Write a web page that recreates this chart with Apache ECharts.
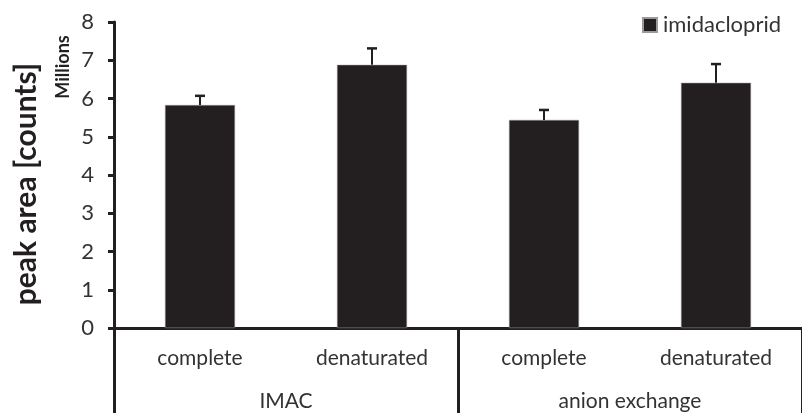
<!DOCTYPE html>
<html>
<head>
<meta charset="utf-8">
<script src="https://cdn.jsdelivr.net/npm/echarts@6/dist/echarts.min.js"></script>
<style>
html,body{margin:0;padding:0;background:#fff;}
#chart{width:802px;height:413px;}
</style>
</head>
<body>
<div id="chart"></div>
<script>
var categories = ['complete', 'denaturated', 'complete', 'denaturated'];
var groups = ['IMAC', 'anion exchange'];
var values = [5.83, 6.88, 5.44, 6.41];
var errors = [0.24, 0.43, 0.26, 0.49];
var yTicks = [0, 1, 2, 3, 4, 5, 6, 7, 8];
var seriesName = 'imidacloprid';

var dark = '#231f20';
var textColor = '#333333';
var fontFam = 'Lato, "Open Sans", sans-serif';

var chart = echarts.init(document.getElementById('chart'), null, {renderer: 'canvas'});
var errData = values.map(function (v, i) { return [i, v, v + errors[i]]; });

chart.setOption({
  animation: false,
  backgroundColor: '#ffffff',
  grid: {left: 114, top: 22, width: 697, height: 306, containLabel: false},
  legend: {
    data: [{name: seriesName, icon: 'rect'}],
    left: 637, top: 9,
    itemWidth: 14, itemHeight: 14, itemGap: 6,
    textStyle: {fontSize: 22, color: textColor, fontFamily: fontFam, padding: [0, 0, 0, 1]}
  },
  xAxis: [{
    type: 'category',
    data: categories,
    position: 'bottom',
    axisLine: {show: true, onZero: false, lineStyle: {color: dark, width: 3}},
    axisTick: {show: false},
    axisLabel: {color: textColor, fontSize: 21, fontFamily: fontFam, margin: 20, interval: 0}
  }, {
    type: 'category',
    data: groups,
    position: 'bottom',
    axisLine: {show: false},
    axisTick: {show: true, length: 86, lineStyle: {color: dark, width: 3}},
    axisLabel: {color: textColor, fontSize: 21, fontFamily: fontFam, margin: 63, interval: 0}
  }],
  yAxis: {
    type: 'value',
    min: yTicks[0], max: yTicks[yTicks.length - 1], interval: 1,
    axisLine: {show: true, lineStyle: {color: dark, width: 3}},
    axisTick: {show: true, length: 6, lineStyle: {color: dark, width: 3}},
    splitLine: {show: false},
    axisLabel: {color: textColor, fontSize: 22, fontFamily: fontFam, margin: 20}
  },
  graphic: [{
    type: 'text',
    x: 26, y: 184, rotation: Math.PI / 2,
    style: {text: 'peak area [counts]', fill: dark, font: 'bold 30px ' + fontFam, textAlign: 'center', textVerticalAlign: 'middle'}
  }, {
    type: 'text',
    x: 63, y: 67, rotation: Math.PI / 2,
    style: {text: 'Millions', fill: dark, font: 'bold 18px ' + fontFam, textAlign: 'center', textVerticalAlign: 'middle'}
  }],
  series: [{
    name: seriesName,
    type: 'bar',
    xAxisIndex: 0,
    data: values,
    barWidth: 70,
    itemStyle: {color: dark, borderColor: '#9a9a9a', borderWidth: 0.5},
    z: 2
  }, {
    type: 'custom',
    xAxisIndex: 0,
    data: errData,
    z: 3,
    renderItem: function (params, api) {
      var base = api.coord([api.value(0), api.value(1)]);
      var top = api.coord([api.value(0), api.value(2)]);
      var hw = 5;
      return {
        type: 'group',
        children: [{
          type: 'line',
          shape: {x1: base[0], y1: base[1], x2: top[0], y2: top[1]},
          style: {stroke: dark, lineWidth: 2}
        }, {
          type: 'line',
          shape: {x1: top[0] - hw, y1: top[1], x2: top[0] + hw, y2: top[1]},
          style: {stroke: dark, lineWidth: 2.5}
        }]
      };
    }
  }]
});
</script>
</body>
</html>
